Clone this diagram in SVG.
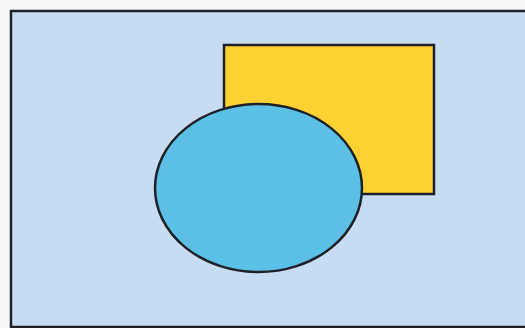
<svg xmlns="http://www.w3.org/2000/svg" width="525" height="328" viewBox="0 0 525 328">
<style>
.line{stroke:#1e2228;stroke-width:2.5}
</style>
<rect x="0" y="0" width="525" height="328" fill="#f4f6f8"/>
<g id="frame"><rect class="line" x="11" y="11" width="520" height="316" fill="#c8dcf1"/></g>
<g id="rectangle"><rect class="line" x="224" y="45" width="210" height="149" fill="#fcd233"/></g>
<g id="ellipse"><ellipse class="line" cx="258.5" cy="188" rx="103.5" ry="84" fill="#5cbfe6"/></g>
</svg>
